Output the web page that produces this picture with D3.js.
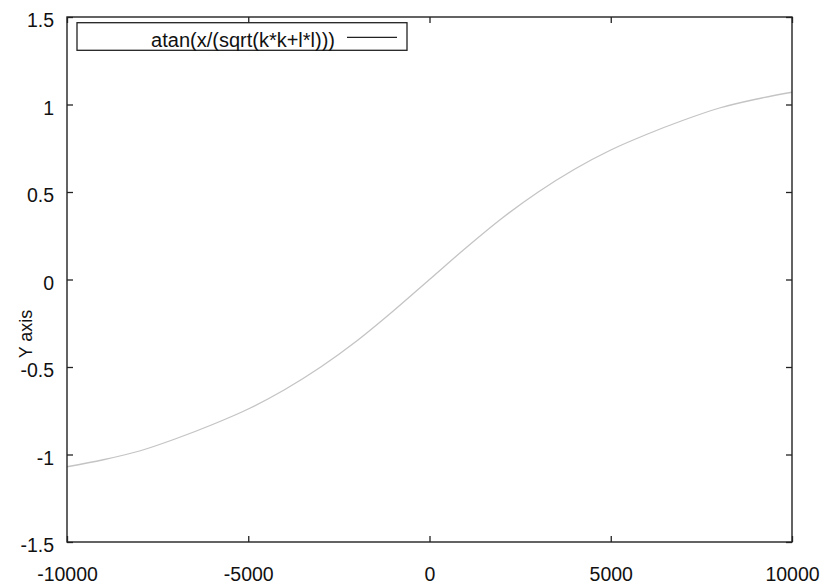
<!DOCTYPE html>
<html>
<head>
<meta charset="utf-8">
<script src="https://cdn.jsdelivr.net/npm/d3@7"></script>
<style>
	body { margin: 0; background: #fff; }
	svg { display: block; }
	text { font-family: Arial, "Liberation Sans", sans-serif; fill: #111; }
</style>
</head>
<body>
<div id="chart"></div>
<script>
// Samples
var xValues = [-10000, -9000, -8000, -7000, -6000, -5000, -4000, -3000, -2000, -1000, 0,
	1000, 2000, 3000, 4000, 5000, 6000, 7000, 8000, 9000, 10000];
var yValues = [-1.07, -1.03, -0.98, -0.91, -0.83, -0.74, -0.63, -0.50, -0.35, -0.18, 0.00,
	0.18, 0.35, 0.50, 0.63, 0.74, 0.83, 0.91, 0.98, 1.03, 1.07];
var xTicks = [-10000, -5000, 0, 5000, 10000];
var yTicks = [-1.5, -1, -0.5, 0, 0.5, 1, 1.5];
var seriesLabel = "atan(x/(sqrt(k*k+l*l)))";
var yLabel = "Y axis";

(function() {
	var width = 826, height = 586;
	var margin = {top: 17, right: 34, bottom: 44, left: 67};
	var w = width - margin.left - margin.right;
	var h = height - margin.top - margin.bottom;

	var svg = d3.select("#chart")
		.append("svg")
			.attr("width", width)
			.attr("height", height);

	var g = svg.append("g")
		.attr("transform", "translate(" + margin.left + "," + margin.top + ")");

	var x = d3.scaleLinear().domain([-10000, 10000]).range([0, w]);
	var y = d3.scaleLinear().domain([-1.5, 1.5]).range([h, 0]);

	// Curve
	var data = xValues.map(function(d, i) { return {x: d, y: yValues[i]}; });
	var line = d3.line()
		.x(function(d) { return x(d.x); })
		.y(function(d) { return y(d.y); })
		.curve(d3.curveMonotoneX);

	g.append("path")
		.datum(data)
		.attr("d", line)
		.style("fill", "none")
		.style("stroke", "#c4c4c4")
		.style("stroke-width", 1.3);

	// Axes, ticks pointing inward, mirrored on top and right
	var fmt = function(d) { return String(d); };
	var axes = [
		{axis: d3.axisBottom(x).tickValues(xTicks).tickFormat(fmt), t: "translate(0," + h + ")", pad: 25},
		{axis: d3.axisTop(x).tickValues(xTicks).tickFormat(""), t: "translate(0,0)", pad: 0},
		{axis: d3.axisLeft(y).tickValues(yTicks).tickFormat(fmt), t: "translate(0,0)", pad: 13},
		{axis: d3.axisRight(y).tickValues(yTicks).tickFormat(""), t: "translate(" + w + ",0)", pad: 0}
	];
	axes.forEach(function(a) {
		var ax = g.append("g")
			.attr("transform", a.t)
			.call(a.axis.tickSizeInner(-6).tickSizeOuter(0).tickPadding(a.pad));
		ax.select(".domain").remove();
		ax.selectAll("line")
			.style("stroke", "#222")
			.style("stroke-width", 1.3);
		ax.selectAll("text")
			.style("font-size", "19.5px")
			.style("font-family", "Arial, 'Liberation Sans', sans-serif")
			.style("fill", "#111");
	});

	// Frame
	g.append("rect")
		.attr("width", w)
		.attr("height", h)
		.style("fill", "none")
		.style("stroke", "#222")
		.style("stroke-width", 1.4);

	// y tick labels sit a little below their ticks
	g.selectAll(".tick text")
		.filter(function() { return this.getAttribute("dy") == "0.32em"; })
		.attr("dy", "0.5em");

	// Y axis label
	svg.append("text")
		.attr("transform", "translate(32,334) rotate(-90)")
		.attr("text-anchor", "middle")
		.style("font-size", "18px")
		.text(yLabel);

	// Legend
	var legend = svg.append("g").attr("class", "legend");
	legend.append("rect")
		.attr("x", 77)
		.attr("y", 22.7)
		.attr("width", 330)
		.attr("height", 27.6)
		.style("fill", "#fff")
		.style("stroke", "#222")
		.style("stroke-width", 1.3);
	legend.append("text")
		.attr("x", 335)
		.attr("y", 46.5)
		.attr("text-anchor", "end")
		.style("font-size", "20px")
		.text(seriesLabel);
	legend.append("line")
		.attr("x1", 347)
		.attr("x2", 397)
		.attr("y1", 37.3)
		.attr("y2", 37.3)
		.style("stroke", "#222")
		.style("stroke-width", 1.3);
})();
</script>
</body>
</html>
